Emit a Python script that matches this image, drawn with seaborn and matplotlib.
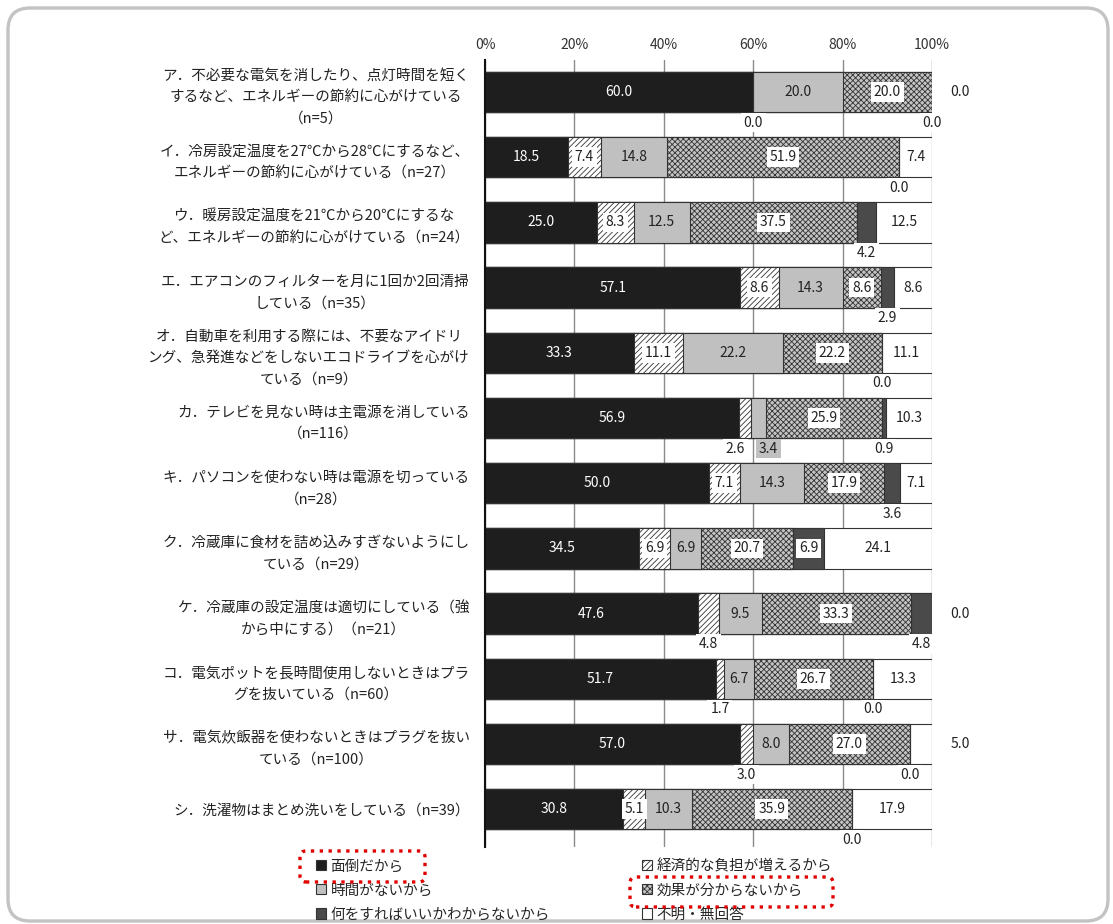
import numpy as np
import pandas as pd
import matplotlib
matplotlib.use("Agg")
import matplotlib.pyplot as plt
import seaborn as sns
from matplotlib.patches import FancyBboxPatch, Patch
from matplotlib.transforms import IdentityTransform

# ---------------- data ----------------
categories = [
    "ア．不必要な電気を消したり、点灯時間を短く\nするなど、エネルギーの節約に心がけている\n（n=5）",
    "イ．冷房設定温度を27℃から28℃にするなど、\nエネルギーの節約に心がけている（n=27）",
    "ウ．暖房設定温度を21℃から20℃にするな\nど、エネルギーの節約に心がけている（n=24）",
    "エ．エアコンのフィルターを月に1回か2回清掃\nしている（n=35）",
    "オ．自動車を利用する際には、不要なアイドリ\nング、急発進などをしないエコドライブを心がけ\nている（n=9）",
    "カ．テレビを見ない時は主電源を消している\n（n=116）",
    "キ．パソコンを使わない時は電源を切っている\n（n=28）",
    "ク．冷蔵庫に食材を詰め込みすぎないようにし\nている（n=29）",
    "ケ．冷蔵庫の設定温度は適切にしている（強\nから中にする）（n=21）",
    "コ．電気ポットを長時間使用しないときはプラ\nグを抜いている（n=60）",
    "サ．電気炊飯器を使わないときはプラグを抜い\nている（n=100）",
    "シ．洗濯物はまとめ洗いをしている（n=39）",
]
series_names = ["面倒だから", "経済的な負担が増えるから", "時間がないから",
                "効果が分からないから", "何をすればいいかわからないから", "不明・無回答"]
mendou = [60.0, 18.5, 25.0, 57.1, 33.3, 56.9, 50.0, 34.5, 47.6, 51.7, 57.0, 30.8]
keizai = [0.0, 7.4, 8.3, 8.6, 11.1, 2.6, 7.1, 6.9, 4.8, 1.7, 3.0, 5.1]
jikan = [20.0, 14.8, 12.5, 14.3, 22.2, 3.4, 14.3, 6.9, 9.5, 6.7, 8.0, 10.3]
kouka = [20.0, 51.9, 37.5, 8.6, 22.2, 25.9, 17.9, 20.7, 33.3, 26.7, 27.0, 35.9]
naniwo = [0.0, 0.0, 4.2, 2.9, 0.0, 0.9, 3.6, 6.9, 4.8, 0.0, 0.0, 0.0]
fumei = [0.0, 7.4, 12.5, 8.6, 11.1, 10.3, 7.1, 24.1, 0.0, 13.3, 5.0, 17.9]
tick_values = [0, 20, 40, 60, 80, 100]
tick_labels = ["0%", "20%", "40%", "60%", "80%", "100%"]

# ---------------- style ----------------
sns.set_theme(style="white")
JP = ["Noto Sans CJK JP", "DejaVu Sans"]
plt.rcParams["font.family"] = JP
plt.rcParams["hatch.linewidth"] = 0.6

face = ["#1e1e1e", "#ffffff", "#c0c0c0", "#c4c4c4", "#4a4a4a", "#ffffff"]
hatches = [None, "//////", None, "xxxxxx", None, None]
edge = "#333333"

W, H = 1113, 924
fig = plt.figure(figsize=(W / 100, H / 100), dpi=100)
ax = fig.add_axes([485 / W, 1 - 847 / H, 447 / W, (847 - 60) / H])

vals = np.array([mendou, keizai, jikan, kouka, naniwo, fumei])
cum = np.cumsum(vals, axis=0)
ends = cum
starts = cum - vals

df = pd.DataFrame({"cat": categories})
for i in reversed(range(len(series_names))):
    df["x"] = cum[i]
    n0 = len(ax.patches)
    sns.barplot(data=df, x="x", y="cat", orient="h", color=face[i], saturation=1,
                width=0.62, edgecolor=edge, linewidth=0.8, errorbar=None, ax=ax)
    if hatches[i]:
        for p in ax.patches[n0:]:
            p.set_hatch(hatches[i])

ax.set_xlim(0, 100)
ax.set_ylim(len(categories) - 1 + 0.58, -0.49)
ax.set_xlabel("")
ax.set_ylabel("")
ax.xaxis.tick_top()
ax.set_xticks(tick_values)
ax.set_xticklabels(tick_labels, fontsize=10, color="#333333")
ax.tick_params(axis="x", length=0, pad=6)
ax.tick_params(axis="y", length=0, pad=11)
for lab in ax.get_yticklabels():
    lab.set_fontsize(10.5)
    lab.set_color("#222222")
    lab.set_horizontalalignment("right")
    lab.set_multialignment("center")
    lab.set_linespacing(1.68)
ax.set_axisbelow(True)
ax.xaxis.grid(True, color="#8a8a8a", linewidth=1.0)
ax.yaxis.grid(False)
for s in ["top", "right", "bottom"]:
    ax.spines[s].set_visible(False)
ax.spines["left"].set_color("#111111")
ax.spines["left"].set_linewidth(1.5)
ax.spines["left"].set_zorder(5)

# ---------------- value labels ----------------
lab_kw = dict(fontsize=10, ha="center", va="center", zorder=6)
for r in range(len(categories)):
    below = []
    for i in range(len(series_names)):
        v = vals[i, r]
        c = (starts[i, r] + ends[i, r]) / 2
        txt = f"{v:.1f}"
        if i == 0:
            ax.text(c, r, txt, color="white", **lab_kw)
        elif i == 5:
            if v <= 5.0:
                ax.text(106.3, r, txt, color="#222222", **lab_kw)
            else:
                ax.text(c, r, txt, color="#222222", **lab_kw)
        elif v < 5.0:
            below.append([c, txt, i])
        else:
            if i == 2:
                ax.text(c, r, txt, color="#222222", **lab_kw)
            else:
                ax.text(c, r, txt, color="#222222",
                        bbox=dict(boxstyle="square,pad=0.2", fc="white", ec="none"), **lab_kw)
    # spread neighbouring labels below the bar
    for k in range(1, len(below)):
        gap = below[k][0] - below[k - 1][0]
        if gap < 7.5:
            d = (7.5 - gap) / 2
            below[k - 1][0] -= d
            below[k][0] += d
    for c, txt, i in below:
        fc = "#c0c0c0" if i == 2 else "white"
        ax.text(c, r + 0.47, txt, color="#222222",
                bbox=dict(boxstyle="square,pad=0.2", fc=fc, ec="none"), **lab_kw)

# ---------------- legend ----------------
handles = []
for i in [0, 2, 4, 1, 3, 5]:
    handles.append(Patch(facecolor=face[i], edgecolor=edge, hatch=hatches[i],
                         linewidth=0.8, label=series_names[i]))
fig.legend(handles=handles, ncol=2, loc="upper left",
           bbox_to_anchor=(316 / W, 1 - 859 / H), frameon=False,
           fontsize=10.5, handlelength=0.7, handleheight=0.7, handletextpad=0.3,
           columnspacing=6.3, labelspacing=0.7, borderpad=0, borderaxespad=0)

# ---------------- decorations ----------------
idt = IdentityTransform()
frame = FancyBboxPatch((8, H - 921), 1100, 913, boxstyle="round,pad=0,rounding_size=22",
                       transform=idt, fill=False, ec="#c3c3c3", lw=2.4, zorder=0)
fig.patches.append(frame)
for (x0, y0, x1, y1) in [(300, 851, 425, 882), (630, 877, 833, 907)]:
    fig.patches.append(FancyBboxPatch((x0, H - y1), x1 - x0, y1 - y0,
                                      boxstyle="round,pad=0,rounding_size=6", transform=idt,
                                      fill=False, ec="#e00000", lw=2.4, linestyle=":", zorder=10))

fig.savefig("out.png", dpi=100)
